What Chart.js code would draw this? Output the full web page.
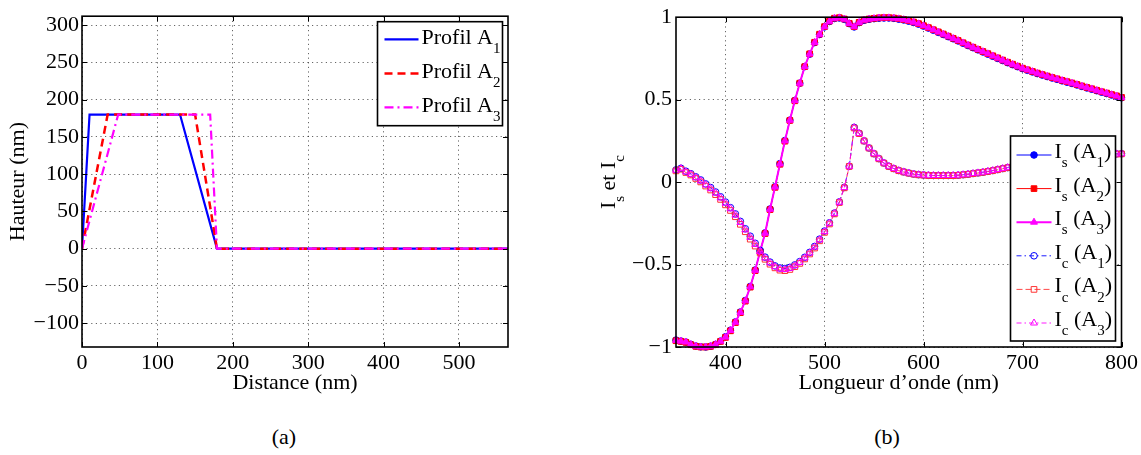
<!DOCTYPE html>
<html><head><meta charset="utf-8">
<script src="https://cdn.jsdelivr.net/npm/chart.js@4.4.1/dist/chart.umd.min.js"></script>
<style>
html,body{margin:0;padding:0;background:#fff;}
#wrap{position:relative;width:1141px;height:455px;overflow:hidden;font-family:'Liberation Serif',serif;}
canvas{position:absolute;top:0;}
#c1{left:0;} #c2{left:570px;}
.cap{position:absolute;top:424px;font-size:22px;width:60px;text-align:center;line-height:26px;color:#000;}
</style></head><body>
<div id="wrap">
<canvas id="c1" width="570" height="400"></canvas>
<canvas id="c2" width="571" height="400"></canvas>
<div class="cap" style="left:254px">(a)</div>
<div class="cap" style="left:857px">(b)</div>
</div>
<script>
// ---------- Data (a): height profiles ----------
const profilA1_x = [0, 10, 130, 179, 565];
const profilA1_y = [0, 180, 180, 0, 0];
const profilA2_x = [0, 34, 150, 179, 565];
const profilA2_y = [0, 180, 180, 0, 0];
const profilA3_x = [0, 48, 170, 179, 565];
const profilA3_y = [0, 180, 180, 0, 0];
const profilLabels = ['Profil A_1', 'Profil A_2', 'Profil A_3'];

// ---------- Data (b): Is and Ic vs wavelength ----------
const lambda = [350,355,360,365,370,375,380,385,390,395,
  400,405,410,415,420,425,430,435,440,445,
  450,455,460,465,470,475,480,485,490,495,
  500,505,510,515,520,525,530,535,540,545,
  550,555,560,565,570,575,580,585,590,595,
  600,605,610,615,620,625,630,635,640,645,
  650,655,660,665,670,675,680,685,690,695,
  700,705,710,715,720,725,730,735,740,745,
  750,755,760,765,770,775,780,785,790,795,
  800];
const Is_A1 = [-0.958,-0.964,-0.97,-0.984,-0.994,-0.999,-1.0,-0.995,-0.984,-0.964,
  -0.938,-0.898,-0.848,-0.788,-0.718,-0.633,-0.533,-0.418,-0.308,-0.163,
  -0.028,0.112,0.252,0.376,0.495,0.60,0.70,0.776,0.846,0.895,
  0.941,0.974,0.992,0.995,0.987,0.961,0.941,0.967,0.981,0.987,
  0.991,0.994,0.995,0.995,0.993,0.988,0.983,0.976,0.968,0.958,
  0.946,0.934,0.921,0.908,0.895,0.882,0.869,0.856,0.842,0.828,
  0.815,0.802,0.789,0.776,0.763,0.75,0.737,0.724,0.712,0.70,
  0.688,0.678,0.668,0.658,0.649,0.64,0.631,0.623,0.614,0.606,
  0.598,0.589,0.58,0.571,0.563,0.554,0.545,0.537,0.528,0.52,
  0.511];
const Is_A2 = [-0.962,-0.966,-0.972,-0.986,-0.996,-1.0,-1.0,-0.996,-0.986,-0.966,
  -0.942,-0.902,-0.852,-0.792,-0.722,-0.637,-0.537,-0.422,-0.312,-0.167,
  -0.032,0.108,0.248,0.374,0.493,0.60,0.70,0.778,0.848,0.897,
  0.943,0.976,0.994,0.997,0.989,0.963,0.943,0.969,0.983,0.989,
  0.993,0.996,0.997,0.997,0.995,0.991,0.986,0.979,0.971,0.961,
  0.949,0.937,0.924,0.911,0.898,0.885,0.872,0.859,0.845,0.831,
  0.818,0.805,0.792,0.779,0.766,0.753,0.74,0.727,0.715,0.703,
  0.691,0.681,0.671,0.661,0.652,0.643,0.634,0.626,0.617,0.609,
  0.601,0.592,0.583,0.574,0.566,0.557,0.548,0.54,0.531,0.523,
  0.514];
const Is_A3 = [-0.96,-0.965,-0.97,-0.985,-0.995,-1.0,-1.0,-0.995,-0.985,-0.965,
  -0.94,-0.90,-0.85,-0.79,-0.72,-0.635,-0.535,-0.42,-0.31,-0.165,
  -0.03,0.11,0.25,0.375,0.494,0.60,0.70,0.777,0.847,0.896,
  0.942,0.975,0.993,0.996,0.988,0.962,0.942,0.968,0.982,0.988,
  0.992,0.995,0.996,0.996,0.994,0.99,0.985,0.978,0.97,0.96,
  0.948,0.936,0.923,0.91,0.897,0.884,0.871,0.858,0.844,0.83,
  0.817,0.804,0.791,0.778,0.765,0.752,0.739,0.726,0.714,0.702,
  0.69,0.68,0.67,0.66,0.651,0.642,0.633,0.625,0.616,0.608,
  0.6,0.591,0.582,0.573,0.565,0.556,0.547,0.539,0.53,0.522,
  0.513];
const Ic_A1 = [0.074,0.084,0.066,0.051,0.032,0.013,-0.011,-0.033,-0.06,-0.089,
  -0.121,-0.155,-0.193,-0.238,-0.283,-0.328,-0.371,-0.414,-0.455,-0.485,
  -0.508,-0.521,-0.524,-0.517,-0.502,-0.482,-0.456,-0.426,-0.39,-0.346,
  -0.297,-0.247,-0.188,-0.12,-0.032,0.096,0.332,0.296,0.25,0.207,
  0.172,0.142,0.116,0.096,0.082,0.07,0.062,0.055,0.049,0.045,
  0.043,0.041,0.04,0.04,0.04,0.04,0.04,0.042,0.045,0.048,
  0.052,0.056,0.06,0.065,0.07,0.076,0.082,0.088,0.094,0.1,
  0.105,0.11,0.115,0.12,0.124,0.128,0.132,0.136,0.14,0.143,
  0.147,0.15,0.153,0.156,0.159,0.162,0.164,0.167,0.169,0.171,
  0.172];
const Ic_A2 = [0.068,0.078,0.058,0.043,0.022,0.001,-0.024,-0.048,-0.076,-0.105,
  -0.138,-0.172,-0.21,-0.256,-0.301,-0.346,-0.388,-0.43,-0.468,-0.498,
  -0.52,-0.534,-0.537,-0.53,-0.513,-0.493,-0.466,-0.436,-0.4,-0.356,
  -0.305,-0.254,-0.193,-0.124,-0.035,0.095,0.328,0.294,0.249,0.206,
  0.171,0.141,0.115,0.095,0.081,0.069,0.061,0.054,0.048,0.044,
  0.042,0.04,0.039,0.039,0.039,0.039,0.039,0.041,0.044,0.047,
  0.051,0.055,0.059,0.064,0.069,0.075,0.081,0.087,0.093,0.099,
  0.104,0.109,0.114,0.119,0.123,0.127,0.131,0.135,0.139,0.142,
  0.146,0.149,0.152,0.155,0.158,0.161,0.163,0.166,0.168,0.17,
  0.171];
const Ic_A3 = [0.072,0.082,0.062,0.047,0.027,0.007,-0.017,-0.04,-0.067,-0.096,
  -0.128,-0.162,-0.2,-0.245,-0.29,-0.335,-0.378,-0.42,-0.46,-0.49,
  -0.513,-0.527,-0.53,-0.523,-0.507,-0.487,-0.46,-0.43,-0.394,-0.35,
  -0.30,-0.25,-0.19,-0.122,-0.033,0.096,0.33,0.295,0.25,0.207,
  0.172,0.142,0.116,0.096,0.082,0.07,0.062,0.055,0.049,0.045,
  0.043,0.041,0.04,0.04,0.04,0.04,0.04,0.042,0.045,0.048,
  0.052,0.056,0.06,0.065,0.07,0.076,0.082,0.088,0.094,0.1,
  0.105,0.11,0.115,0.12,0.124,0.128,0.132,0.136,0.14,0.143,
  0.147,0.15,0.153,0.156,0.159,0.162,0.164,0.167,0.169,0.171,
  0.172];
const spectreLabels = ['I_s (A_1)','I_s (A_2)','I_s (A_3)','I_c (A_1)','I_c (A_2)','I_c (A_3)'];

// ---------- helpers ----------
const FAM = "'Liberation Serif', 'DejaVu Serif', serif";
const FS = 22;
const pts = (xs, ys) => xs.map((x, i) => ({x: x, y: ys[i]}));
const minusFmt = v => String(v).replace('-', '\u2212');

function drawRich(ctx, str, x, y, fs, measureOnly) {
  let cx = x, i = 0;
  ctx.textBaseline = 'alphabetic'; ctx.textAlign = 'left';
  while (i < str.length) {
    if (str[i] === '_' && i + 1 < str.length) {
      ctx.font = Math.round(fs * 0.68) + 'px ' + FAM;
      if (!measureOnly) ctx.fillText(str[i + 1], cx, y + fs * 0.42);
      cx += ctx.measureText(str[i + 1]).width; i += 2;
    } else {
      let j = i; while (j < str.length && str[j] !== '_') j++;
      const s = str.slice(i, j);
      ctx.font = fs + 'px ' + FAM;
      if (!measureOnly) ctx.fillText(s, cx, y);
      cx += ctx.measureText(s).width; i = j;
    }
  }
  return cx - x;
}

function drawMarker(ctx, style, x, y, r, stroke, fill, lw) {
  ctx.save(); ctx.setLineDash([]);
  ctx.lineWidth = lw; ctx.strokeStyle = stroke; ctx.fillStyle = fill;
  ctx.beginPath();
  if (style === 'rect') { const s = Math.SQRT1_2 * r; ctx.rect(x - s, y - s, 2 * s, 2 * s); }
  else if (style === 'triangle') {
    let a = 0; ctx.moveTo(x + Math.sin(a) * r, y - Math.cos(a) * r);
    a += 2 * Math.PI / 3; ctx.lineTo(x + Math.sin(a) * r, y - Math.cos(a) * r);
    a += 2 * Math.PI / 3; ctx.lineTo(x + Math.sin(a) * r, y - Math.cos(a) * r);
    ctx.closePath();
  } else { ctx.arc(x, y, r, 0, Math.PI * 2); }
  ctx.fill(); ctx.stroke(); ctx.restore();
}

const matlabAxes = {
  id: 'matlabAxes',
  afterDatasetsDraw(chart) {
    const {ctx, chartArea: a, scales} = chart;
    const L = 5;
    ctx.save();
    ctx.strokeStyle = '#000'; ctx.lineWidth = 1; ctx.setLineDash([]);
    ctx.beginPath();
    scales.x.ticks.forEach(t => {
      const p = Math.round(scales.x.getPixelForValue(t.value)) + 0.5;
      ctx.moveTo(p, a.bottom); ctx.lineTo(p, a.bottom - L);
      ctx.moveTo(p, a.top); ctx.lineTo(p, a.top + L);
    });
    scales.y.ticks.forEach(t => {
      const p = Math.round(scales.y.getPixelForValue(t.value)) + 0.5;
      ctx.moveTo(a.left, p); ctx.lineTo(a.left + L, p);
      ctx.moveTo(a.right, p); ctx.lineTo(a.right - L, p);
    });
    ctx.stroke();
    ctx.lineWidth = 1.6;
    ctx.strokeRect(a.left, a.top, a.right - a.left, a.bottom - a.top);
    ctx.restore();
  }
};

const matlabLegend = {
  id: 'matlabLegend',
  afterDraw(chart) {
    const o = chart.options.plugins.matlabLegend;
    if (!o) return;
    const {ctx, chartArea: a} = chart;
    const x0 = a.right - o.margin - o.width;
    const y0 = o.corner === 'ne' ? a.top + o.margin : a.bottom - o.margin - o.height;
    ctx.save();
    ctx.fillStyle = '#fff'; ctx.fillRect(x0, y0, o.width, o.height);
    ctx.strokeStyle = '#000'; ctx.lineWidth = 1.6; ctx.setLineDash([]);
    ctx.strokeRect(x0, y0, o.width, o.height);
    chart.data.datasets.forEach((ds, k) => {
      const cy = y0 + o.firstRow + k * o.rowH;
      ctx.save();
      ctx.strokeStyle = ds.borderColor; ctx.lineWidth = ds.borderWidth;
      ctx.setLineDash(ds.borderDash || []);
      ctx.beginPath(); ctx.moveTo(x0 + o.lineX0, cy); ctx.lineTo(x0 + o.lineX1, cy); ctx.stroke();
      ctx.restore();
      if (ds.pointRadius > 0) {
        drawMarker(ctx, ds.pointStyle, x0 + (o.lineX0 + o.lineX1) / 2, cy, ds.pointRadius,
          ds.pointBorderColor, ds.pointBackgroundColor, ds.pointBorderWidth);
      }
      ctx.fillStyle = '#000';
      drawRich(ctx, ds.label, x0 + o.textX, cy + o.baseOff, FS);
    });
    ctx.restore();
  }
};

const richYTitle = {
  id: 'richYTitle',
  afterDraw(chart) {
    const o = chart.options.plugins.richYTitle;
    if (!o) return;
    const {ctx, chartArea: a} = chart;
    ctx.save();
    ctx.fillStyle = '#000';
    const w = drawRich(ctx, o.text, 0, 0, FS, true);
    ctx.translate(o.x, (a.top + a.bottom) / 2);
    ctx.rotate(-Math.PI / 2);
    drawRich(ctx, o.text, -w / 2, 0, FS);
    ctx.restore();
  }
};

const gridOpts = {color: 'rgba(0,0,0,0.6)', lineWidth: 1, drawTicks: false};
const borderOpts = {display: false, dash: [1.2, 3.4]};
const tickFont = {family: FAM, size: FS};

// ---------- Chart (a) ----------
new Chart(document.getElementById('c1'), {
  type: 'scatter',
  data: {
    datasets: [
      {label: profilLabels[0], data: pts(profilA1_x, profilA1_y), showLine: true, borderColor: '#0000ff', borderWidth: 2.2, pointRadius: 0, order: 3},
      {label: profilLabels[1], data: pts(profilA2_x, profilA2_y), showLine: true, borderColor: '#ff0000', borderWidth: 2.5, borderDash: [8, 5], pointRadius: 0, order: 2},
      {label: profilLabels[2], data: pts(profilA3_x, profilA3_y), showLine: true, borderColor: '#ff00ff', borderWidth: 2.2, borderDash: [9, 4, 2, 4], pointRadius: 0, order: 1}
    ]
  },
  options: {
    responsive: false, animation: false, events: [],
    layout: {padding: {left: 0, top: 12, right: 62, bottom: 0}},
    plugins: {
      legend: {display: false}, tooltip: {enabled: false},
      matlabLegend: {corner: 'ne', margin: 5.5, width: 125, height: 104, firstRow: 17.7, rowH: 34, lineX0: 7, lineX1: 41, textX: 44, baseOff: 4.5}
    },
    scales: {
      x: {type: 'linear', min: 0, max: 565,
        ticks: {stepSize: 100, includeBounds: false, autoSkip: false, maxRotation: 0, color: '#000', font: tickFont, padding: 3, callback: minusFmt},
        grid: gridOpts, border: borderOpts,
        title: {display: true, text: 'Distance (nm)', color: '#000', font: {family: FAM, size: FS}, padding: {top: 0, bottom: 4}},
        afterFit: s => { s.height = 53; }},
      y: {type: 'linear', min: -132, max: 312,
        ticks: {stepSize: 50, includeBounds: false, autoSkip: false, color: '#000', font: tickFont, padding: 3, callback: minusFmt},
        grid: gridOpts, border: borderOpts,
        title: {display: true, text: 'Hauteur (nm)', color: '#000', font: {family: FAM, size: FS}, padding: {top: 5, bottom: 0}},
        afterFit: s => { s.width = 82; }}
    }
  },
  plugins: [matlabAxes, matlabLegend]
});

// ---------- Chart (b) ----------
const dsB = (label, ys, color, lw, dash, style, filled, order) => ({
  label: label, data: pts(lambda, ys), showLine: true, clip: false,
  borderColor: color, borderWidth: lw, borderDash: dash,
  pointStyle: style, pointRadius: style === 'circle' ? 3.3 : 4,
  pointBorderColor: color, pointBackgroundColor: filled ? color : 'rgba(0,0,0,0)',
  pointBorderWidth: 1, order: order
});
new Chart(document.getElementById('c2'), {
  type: 'scatter',
  data: {
    datasets: [
      dsB(spectreLabels[0], Is_A1, '#0000ff', 1, [], 'circle', true, 6),
      dsB(spectreLabels[1], Is_A2, '#ff0000', 1, [], 'rect', true, 5),
      dsB(spectreLabels[2], Is_A3, '#ff00ff', 2, [], 'triangle', true, 4),
      dsB(spectreLabels[3], Ic_A1, '#0000ff', 0.9, [5, 3, 1.5, 3], 'circle', false, 3),
      dsB(spectreLabels[4], Ic_A2, '#ff3333', 0.9, [6, 3], 'rect', false, 2),
      dsB(spectreLabels[5], Ic_A3, '#ff00ff', 0.9, [5, 3, 1.5, 3], 'triangle', false, 1)
    ]
  },
  options: {
    responsive: false, animation: false, events: [],
    layout: {padding: {left: 0, top: 11, right: 19, bottom: 0}},
    plugins: {
      legend: {display: false}, tooltip: {enabled: false},
      matlabLegend: {corner: 'se', margin: 6, width: 105, height: 205, firstRow: 19, rowH: 33.6, lineX0: 6, lineX1: 41, textX: 44, baseOff: 3},
      richYTitle: {text: 'I_s et I_c', x: 45}
    },
    scales: {
      x: {type: 'linear', min: 350, max: 800,
        ticks: {stepSize: 100, includeBounds: false, autoSkip: false, maxRotation: 0, color: '#000', font: tickFont, padding: 3, callback: minusFmt},
        grid: gridOpts, border: borderOpts,
        title: {display: true, text: 'Longueur d\u2019onde (nm)', color: '#000', font: {family: FAM, size: FS}, padding: {top: 0, bottom: 4}},
        afterFit: s => { s.height = 53; }},
      y: {type: 'linear', min: -1, max: 1,
        ticks: {stepSize: 0.5, autoSkip: false, color: '#000', font: tickFont, padding: 4, callback: minusFmt},
        grid: gridOpts, border: borderOpts,
        afterFit: s => { s.width = 106; }}
    }
  },
  plugins: [matlabAxes, matlabLegend, richYTitle]
});
</script>
</body></html>
